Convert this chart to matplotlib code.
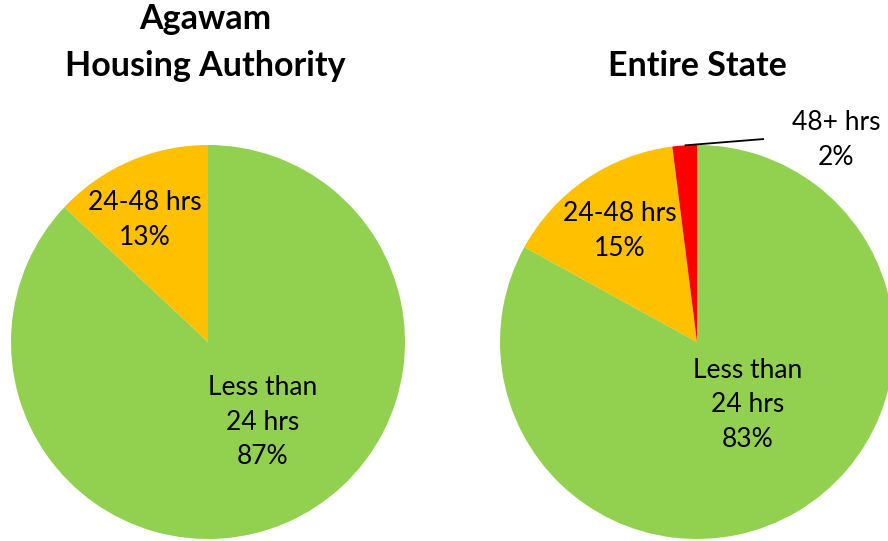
import numpy as np
import matplotlib
matplotlib.use("Agg")
import matplotlib.pyplot as plt

plt.rcParams['font.family'] = ['Lato', 'DejaVu Sans']

# data
categories = ['Less than\n24 hrs', '24-48 hrs', '48+ hrs']
agawam = [87, 13]
state = [83, 15, 2]
colors = ['#92D050', '#FFC000', '#FF0000']

W, H = 888, 541
fig = plt.figure(figsize=(W / 100, H / 100), dpi=100)
ax = fig.add_axes([0, 0, 1, 1])
ax.set_xlim(0, W)
ax.set_ylim(0, H)
ax.set_aspect('equal')
ax.axis('off')


def iy(y):
    # image-style y (from top) -> axes y
    return H - y


R = 197
c_left = (208, iy(342))
c_right = (697, iy(342))

ax.pie(agawam, colors=colors[:2], startangle=90, counterclock=False,
       center=c_left, radius=R, wedgeprops=dict(linewidth=0))
ax.pie(state, colors=colors, startangle=90, counterclock=False,
       center=c_right, radius=R, wedgeprops=dict(linewidth=0))
ax.set_xlim(0, W)
ax.set_ylim(0, H)

lab_fs = 19
ls = 1.48
# left pie labels
ax.text(263, iy(422), f"{categories[0]}\n{agawam[0]}%", ha='center', va='center',
        fontsize=lab_fs, linespacing=ls)
ax.text(145, iy(220), f"{categories[1]}\n{agawam[1]}%", ha='center', va='center',
        fontsize=lab_fs, linespacing=ls)

# right pie labels
ax.text(748, iy(405), f"{categories[0]}\n{state[0]}%", ha='center', va='center',
        fontsize=lab_fs, linespacing=ls)
ax.text(620, iy(231), f"{categories[1]}\n{state[1]}%", ha='center', va='center',
        fontsize=lab_fs, linespacing=ls)
ax.text(836, iy(140), f"{categories[2]}\n{state[2]}%", ha='center', va='center',
        fontsize=lab_fs, linespacing=ls)

# leader line for small slice
frac_mid = (state[0] + state[1] + state[2] / 2) / sum(state)
ang = np.deg2rad(90 - 360 * frac_mid)
x0 = c_right[0] + R * np.cos(ang)
y0 = c_right[1] + R * np.sin(ang)
ax.plot([x0, 764], [y0, iy(139)], color='black', lw=1.3, solid_capstyle='butt')

# titles
tfs = 24.5
ax.text(205, iy(19), "Agawam", ha='center', va='center', fontsize=tfs, fontweight='bold')
ax.text(205, iy(66), "Housing Authority", ha='center', va='center', fontsize=tfs, fontweight='bold')
ax.text(697, iy(66), "Entire State", ha='center', va='center', fontsize=tfs, fontweight='bold')

fig.savefig('out.png', dpi=100)
